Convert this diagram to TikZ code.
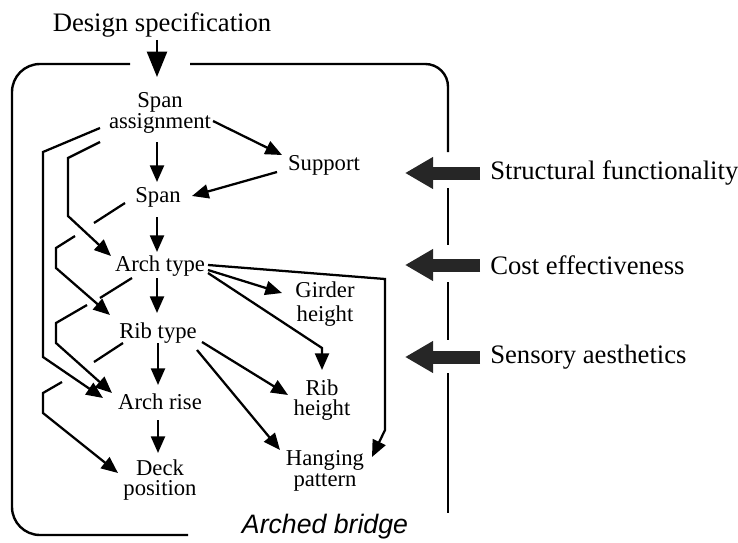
\documentclass[tikz,border=0pt]{standalone}
\usepackage{fontspec}
\setmainfont{Liberation Serif}
\newfontfamily\labelsans{Liberation Sans}
\usetikzlibrary{arrows.meta,calc}

\begin{document}
\begin{tikzpicture}[x=0.75pt,y=-0.75pt,
  lbl/.style={font=\fontsize{17}{15.5}\selectfont, align=center, inner sep=0pt},
  head/.style={font=\fontsize{20}{22}\selectfont, inner sep=0pt},
  link/.style={line width=1.7pt, -{Triangle[length=12.5pt,width=10.5pt]}},
  plain/.style={line width=1.7pt},
  frame/.style={line width=1.8pt},
  bigarrow/.style={line width=9.75pt, draw=black!85, -{Triangle[length=21pt,width=22.5pt]}}]
\useasboundingbox (0,0) rectangle (738,542);

% ---- texts ----
\node[head] (ds) at (162,25) {Design specification};
\node[lbl] (sa) at (160,113) {Span\\assignment};
\node[lbl] (sup) at (324,165) {Support};
\node[lbl] (span) at (158,197) {Span};
\node[lbl] (at) at (160,266) {Arch type};
\node[lbl, font=\fontsize{17}{18.5}\selectfont] (gh) at (325,304) {Girder\\height};
\node[lbl] (rt) at (158,333) {Rib type};
\node[lbl] (rh) at (322,400) {Rib\\height};
\node[lbl] (ar) at (160,402) {Arch rise};
\node[lbl] (dp) at (160,480) {Deck\\position};
\node[lbl] (hp) at (325,471) {Hanging\\pattern};
\node[font=\labelsans\itshape\fontsize{20}{22}\selectfont, inner sep=0pt] (ab) at (325,527) {Arched bridge};
\node[head, anchor=west] (sf) at (490,173) {Structural functionality};
\node[head, anchor=west] (ce) at (490,265) {Cost effectiveness};
\node[head, anchor=west] (sae) at (490,357) {Sensory aesthetics};

% ---- open frame of the arched bridge model ----
\draw[frame, rounded corners=21pt] (130,64) -- (12,64) -- (12,535) -- (188,535);
\draw[frame, rounded corners=17pt] (190,64) -- (448,64) -- (448,152);
\draw[frame] (448,188) -- (448,245);
\draw[frame] (448,282) -- (448,340);
\draw[frame] (448,373) -- (448,513);

% ---- criteria acting on the frame ----
\draw[bigarrow] ($(sf.west)+(-10,0)$) -- ($(sf.west)+(-85,0)$);
\draw[bigarrow] ($(ce.west)+(-10,0)$) -- ($(ce.west)+(-85,0)$);
\draw[bigarrow] ($(sae.west)+(-10,0)$) -- ($(sae.west)+(-85,0)$);

% ---- main dependencies ----
\draw[link, -{Triangle[length=19pt,width=15pt]}] ($(ds)+(-5,15)$) -- ($(sa)+(-3,-36)$);
\draw[link] ($(sa)+(-3,29)$) -- ($(span)+(-1,-15)$);
\draw[link] ($(sa)+(53,8)$) -- ($(sup)+(-42,-10)$);
\draw[link] ($(sup)+(-47,7)$) -- ($(span)+(34,-1)$);
\draw[link] ($(span)+(-1,20)$) -- ($(at)+(-3,-14)$);
\draw[link] ($(at)+(-3,12)$) -- ($(rt)+(-1,-20)$);
\draw[link] ($(rt)+(0,10)$) -- ($(ar)+(-2,-17)$);
\draw[link] ($(ar)+(-2,18)$) -- ($(dp)+(-2,-27)$);
\draw[link] ($(at)+(48,4)$) -- ($(gh)+(-43,-11)$);
\draw[link] ($(at)+(48,7)$) -- ($(rh)+(0,-52)$) -- ($(rh)+(0,-30)$);
\draw[link] ($(at)+(48,-1)$) -- ($(hp)+(60,-192)$) -- ($(hp)+(60,-41)$) -- ($(hp)+(47,-14)$);
\draw[link] ($(rt)+(44,9)$) -- ($(rh)+(-34,-5)$);
\draw[link] ($(rt)+(39,17)$) -- ($(hp)+(-45,-21)$);

% ---- bypassing dependencies on the left, broken where they cross ----
\coordinate (c1) at (94,223);
\coordinate (c2) at (100,298);
\coordinate (c3) at (94,362);
\draw[link] ($(sa)+(-60,15)$) -- (43,152) -- (43,357) -- ($(ar)+(-57,-4)$);
\draw[link] ($(sa)+(-60,29)$) -- (68,158) -- (68,216) -- ($(at)+(-49,-10)$);
\draw[plain] ($(span)+(-33,6)$) -- (c1);
\draw[link] (75,236) -- (56,248) -- (56,268) -- ($(rt)+(-48,-18)$);
\draw[plain] ($(at)+(-28,12)$) -- (c2);
\draw[link] (87,305) -- (56,323) -- (56,343) -- ($(ar)+(-48,-9)$);
\draw[plain] ($(rt)+(-35,10)$) -- (c3);
\draw[link] (62,382) -- (43,393) -- (43,413) -- ($(dp)+(-42,-7)$);
\end{tikzpicture}
\end{document}
